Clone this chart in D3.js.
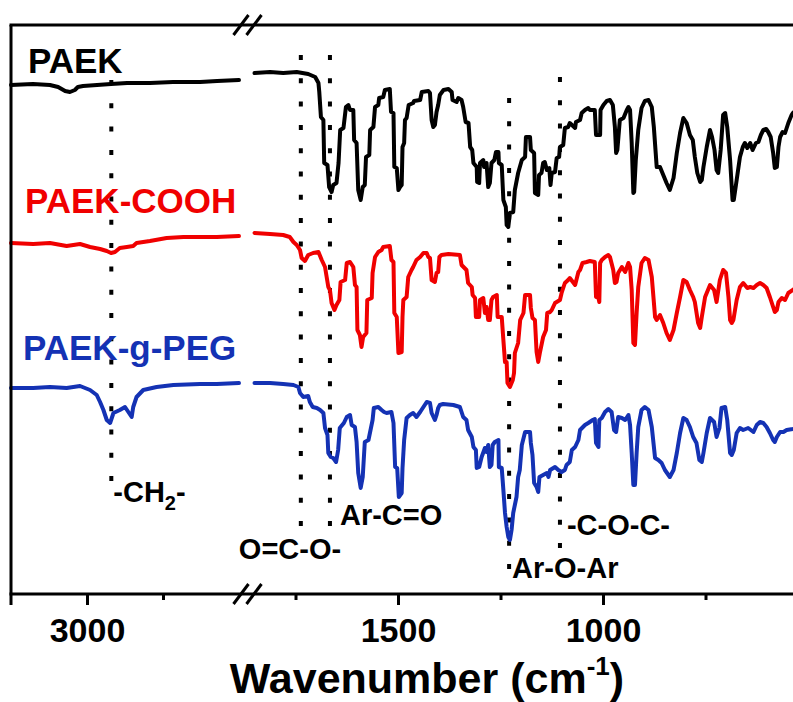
<!DOCTYPE html>
<html>
<head>
<meta charset="utf-8">
<script src="https://cdn.jsdelivr.net/npm/d3@7"></script>
<style>
  html, body { margin: 0; padding: 0; background: #fff; }
  svg { display: block; font-family: "Liberation Sans", Arial, Helvetica, sans-serif; font-weight: bold; }
</style>
</head>
<body>
<svg id="chart" width="793" height="702"></svg>
<script>
// ---- FTIR spectra: wavenumber (cm-1), transmittance (arbitrary, stacked) ----
const seriesNames = ["PAEK", "PAEK-COOH", "PAEK-g-PEG"];

// wavenumber spans on either side of the axis break
const highSpan = [3250, 2500];
const lowSpan = [1850, 500];

const majorTicksHigh = [3000];
const minorTicksHigh = [2750];
const majorTicksLow = [1500, 1000];
const minorTicksLow = [1750, 1250, 750];

// PAEK
const paekHigh = [[3250,50.9],[3178,51.0],[3122,50.9],[3095,50.7],[3072,50.3],[3056,50.2],[3040,50.4],[3030,50.7],[3013,50.8],[2967,50.9],[2921,51.0],[2868,51.1],[2793,51.1],[2717,51.2],[2628,51.2],[2572,51.3],[2500,51.4]];
const paekLow = [[1850,52.1],[1812,52.2],[1780,52.1],[1747,52.2],[1719,52.0],[1702,51.7],[1694,51.1],[1692,50.2],[1688,47.7],[1682,47.4],[1680,43.1],[1672,42.9],[1668,40.7],[1662,40.2],[1658,40.9],[1650,41.1],[1645,43.1],[1641,46.4],[1633,46.6],[1627,48.7],[1621,48.9],[1617,48.4],[1609,48.4],[1607,45.4],[1601,45.1],[1597,40.4],[1591,39.4],[1586,40.7],[1581,40.9],[1578,43.7],[1570,43.9],[1568,46.4],[1560,46.7],[1556,48.7],[1548,48.9],[1546,49.6],[1536,49.7],[1532,50.4],[1520,50.5],[1517,48.2],[1511,48.1],[1509,42.7],[1503,42.6],[1499,40.4],[1495,40.7],[1491,40.9],[1489,44.7],[1485,45.1],[1483,47.4],[1479,47.6],[1474,48.9],[1463,49.1],[1461,49.3],[1446,49.4],[1442,50.2],[1426,50.3],[1422,50.1],[1418,47.4],[1414,46.7],[1410,46.9],[1406,48.2],[1402,48.9],[1398,49.9],[1389,50.4],[1377,50.5],[1369,50.2],[1367,49.4],[1357,49.2],[1353,49.6],[1345,49.4],[1341,48.7],[1335,47.2],[1328,47.1],[1324,44.7],[1319,44.4],[1316,43.1],[1308,42.7],[1307,41.2],[1302,41.1],[1300,43.1],[1292,43.4],[1290,42.7],[1284,43.1],[1280,40.7],[1276,41.1],[1272,43.1],[1265,43.4],[1261,44.2],[1255,44.2],[1254,43.1],[1247,42.9],[1243,39.4],[1237,38.7],[1235,36.9],[1231,36.7],[1227,38.1],[1219,38.2],[1215,40.4],[1207,42.1],[1198,43.4],[1190,43.7],[1188,45.7],[1178,45.7],[1176,44.4],[1168,44.1],[1166,40.1],[1158,39.9],[1156,41.9],[1150,42.1],[1146,43.1],[1142,43.2],[1137,42.4],[1131,42.6],[1128,40.9],[1125,42.1],[1117,42.2],[1113,43.6],[1107,43.7],[1105,44.7],[1097,44.9],[1093,46.6],[1085,46.7],[1081,47.1],[1068,46.6],[1066,47.2],[1056,47.4],[1052,48.1],[1044,48.4],[1036,48.6],[1032,48.4],[1020,48.4],[1017,45.9],[1007,45.9],[1006,48.4],[999,48.9],[991,49.3],[983,49.4],[976,48.9],[971,46.7],[968,44.1],[965,44.4],[959,47.4],[950,47.6],[942,48.4],[938,48.7],[934,48.4],[930,45.1],[926,40.1],[924,40.2],[920,43.4],[914,46.4],[906,48.6],[898,49.3],[889,49.4],[881,48.7],[876,46.7],[869,42.7],[861,42.7],[853,41.9],[845,41.1],[837,40.4],[828,41.6],[820,44.1],[812,46.1],[804,47.6],[796,47.1],[788,45.9],[781,45.4],[776,43.7],[770,42.1],[763,41.2],[759,41.4],[755,42.7],[747,44.7],[739,46.4],[734,45.7],[728,44.4],[723,42.4],[719,42.1],[713,44.4],[707,47.9],[702,48.1],[697,46.7],[690,43.4],[686,40.7],[684,39.4],[681,39.4],[674,41.4],[666,43.7],[659,44.7],[654,45.1],[648,44.6],[641,45.1],[635,44.4],[627,45.1],[621,45.2],[615,45.9],[609,46.4],[602,46.5],[597,46.2],[591,45.7],[585,44.1],[581,42.6],[576,42.7],[572,44.7],[568,45.7],[562,46.2],[556,46.1],[548,47.1],[540,47.9],[537,48.1],[525,48.5]];

// PAEK-COOH
const paekCoohHigh = [[3250,35.1],[3177,35.0],[3122,35.1],[3067,34.8],[3023,35.0],[2990,34.7],[2957,34.5],[2935,34.3],[2921,34.1],[2908,34.2],[2892,34.6],[2869,34.7],[2848,34.8],[2837,35.1],[2793,35.3],[2738,35.6],[2683,35.7],[2628,35.7],[2573,35.7],[2500,35.8]];
const paekCoohLow = [[1850,36.1],[1812,36.0],[1780,35.9],[1764,35.7],[1755,35.2],[1747,34.9],[1739,34.4],[1735,33.6],[1727,33.3],[1719,33.9],[1707,34.1],[1694,34.2],[1689,33.7],[1686,33.4],[1678,32.7],[1670,30.7],[1666,30.4],[1662,29.1],[1655,28.4],[1650,28.9],[1643,29.4],[1640,31.2],[1629,31.4],[1625,33.1],[1617,33.2],[1609,32.7],[1605,30.9],[1601,30.7],[1599,26.4],[1593,25.9],[1589,24.7],[1585,25.7],[1577,26.1],[1575,29.4],[1564,29.6],[1562,32.1],[1556,33.7],[1548,34.2],[1540,34.4],[1536,34.7],[1520,34.8],[1516,33.4],[1511,33.2],[1509,28.1],[1503,27.7],[1499,24.1],[1491,24.2],[1489,27.7],[1487,29.4],[1479,29.7],[1475,31.7],[1467,32.4],[1463,32.7],[1455,33.4],[1446,33.7],[1438,34.1],[1430,34.1],[1426,33.7],[1422,33.6],[1418,31.4],[1410,31.2],[1406,32.1],[1402,32.2],[1399,33.7],[1394,33.9],[1377,34.0],[1349,33.9],[1345,32.9],[1333,32.4],[1329,31.1],[1320,30.7],[1318,29.9],[1312,29.6],[1310,27.7],[1302,27.7],[1300,29.4],[1292,29.6],[1288,28.1],[1284,28.7],[1280,27.4],[1276,27.4],[1272,29.4],[1268,29.7],[1259,29.9],[1257,27.7],[1247,27.7],[1243,25.4],[1239,23.2],[1235,23.2],[1233,21.1],[1227,20.7],[1220,21.4],[1217,22.1],[1215,24.1],[1207,25.1],[1202,27.4],[1194,28.1],[1190,29.9],[1178,29.9],[1176,28.6],[1172,27.6],[1166,27.4],[1162,24.2],[1158,23.2],[1154,24.1],[1146,25.7],[1139,26.4],[1136,28.1],[1129,28.2],[1125,28.4],[1117,29.1],[1105,29.4],[1101,30.1],[1093,31.1],[1085,31.4],[1081,31.6],[1068,30.9],[1060,32.2],[1056,32.4],[1050,33.1],[1040,33.2],[1032,33.3],[1020,33.2],[1017,29.7],[1011,29.6],[1009,29.2],[1007,33.1],[1003,33.4],[995,33.7],[987,33.9],[983,33.7],[975,32.4],[971,31.1],[967,31.2],[963,32.1],[954,32.7],[946,32.2],[938,33.1],[934,32.7],[930,30.4],[926,25.1],[922,24.9],[918,28.1],[914,30.7],[906,33.1],[898,33.6],[889,33.4],[881,31.7],[873,27.7],[869,27.4],[861,27.9],[853,27.1],[845,26.1],[837,25.4],[828,26.4],[820,28.1],[812,29.7],[804,31.4],[796,31.2],[788,30.4],[780,29.7],[776,29.2],[768,27.1],[763,26.6],[759,27.7],[751,29.7],[739,30.9],[729,30.4],[723,29.2],[715,31.4],[707,32.4],[700,32.1],[694,29.7],[690,27.4],[686,27.1],[682,27.4],[674,29.4],[666,30.7],[658,31.1],[654,30.9],[648,30.6],[641,30.7],[633,30.6],[625,30.9],[617,31.1],[609,30.9],[601,30.6],[593,29.7],[585,28.7],[581,28.2],[576,28.4],[572,29.2],[564,29.6],[556,29.4],[548,30.1],[537,30.4],[525,30.8]];

// PAEK-g-PEG
const paekPegHigh = [[3250,20.6],[3177,20.6],[3122,20.7],[3067,20.6],[3023,20.8],[2990,20.4],[2968,19.9],[2957,19.2],[2946,18.4],[2935,17.4],[2924,17.1],[2913,18.1],[2892,18.4],[2875,18.7],[2864,18.2],[2853,17.7],[2848,18.7],[2837,19.7],[2815,20.4],[2771,20.7],[2716,20.9],[2628,21.0],[2573,21.0],[2500,21.1]];
const paekPegLow = [[1850,21.1],[1812,21.1],[1780,21.0],[1755,20.9],[1743,20.7],[1739,20.1],[1731,19.7],[1719,19.8],[1715,19.2],[1708,18.7],[1698,18.6],[1690,18.4],[1682,18.1],[1678,16.6],[1672,15.9],[1670,14.1],[1664,13.7],[1658,13.6],[1651,13.2],[1646,14.4],[1642,16.6],[1632,17.1],[1625,17.7],[1617,17.9],[1613,16.9],[1605,16.7],[1601,15.2],[1597,12.1],[1591,10.6],[1586,11.7],[1581,15.2],[1572,15.4],[1562,17.4],[1559,18.6],[1548,18.7],[1540,18.4],[1534,18.2],[1528,18.1],[1516,18.2],[1511,17.1],[1507,12.7],[1502,12.6],[1498,9.7],[1491,10.1],[1489,12.6],[1485,15.4],[1479,17.6],[1471,17.9],[1463,18.1],[1455,17.7],[1446,18.2],[1438,18.7],[1430,19.2],[1422,19.1],[1418,18.1],[1410,17.4],[1406,17.9],[1402,18.6],[1398,18.9],[1390,19.0],[1365,18.9],[1349,18.7],[1341,17.7],[1333,17.4],[1329,16.4],[1320,15.7],[1316,14.7],[1310,14.4],[1308,12.6],[1302,12.7],[1296,13.7],[1288,14.6],[1284,14.2],[1280,14.9],[1276,12.7],[1272,12.9],[1269,14.9],[1264,15.2],[1255,15.4],[1254,12.7],[1247,12.6],[1243,10.4],[1239,8.1],[1235,6.7],[1231,5.7],[1227,5.4],[1223,6.4],[1219,8.1],[1211,9.7],[1207,11.7],[1203,12.4],[1198,14.9],[1190,16.2],[1178,16.2],[1176,15.1],[1172,13.9],[1168,11.1],[1162,10.7],[1158,10.2],[1155,11.7],[1146,11.9],[1137,12.1],[1133,11.7],[1129,12.4],[1121,12.6],[1117,12.7],[1109,12.4],[1101,12.2],[1093,12.4],[1089,12.9],[1081,13.2],[1076,14.4],[1068,14.7],[1060,15.4],[1056,16.4],[1044,16.9],[1036,17.1],[1025,17.4],[1020,17.5],[1017,15.1],[1011,14.7],[1009,17.4],[1003,17.6],[995,18.2],[987,18.5],[979,18.2],[973,16.4],[968,16.2],[963,17.7],[954,17.6],[946,17.4],[938,17.9],[934,16.9],[930,14.1],[926,10.9],[922,10.9],[918,14.1],[914,16.7],[906,18.4],[898,18.7],[889,18.4],[881,16.7],[873,13.6],[865,13.4],[857,13.1],[849,12.4],[837,11.7],[828,12.4],[820,14.1],[812,16.1],[804,17.6],[796,17.4],[788,16.7],[780,15.7],[772,15.1],[765,13.4],[759,13.2],[755,14.1],[747,16.1],[739,17.6],[729,17.2],[723,15.7],[716,16.6],[711,18.6],[702,18.7],[697,17.4],[690,14.1],[686,13.9],[681,14.4],[674,16.1],[666,16.6],[658,16.4],[646,16.6],[633,16.2],[625,16.9],[617,17.2],[609,17.1],[601,16.7],[593,16.1],[585,15.4],[581,15.2],[576,15.7],[568,16.2],[560,16.2],[552,16.4],[537,16.5],[525,16.6]];

// characteristic bands marked with dotted lines
const bandWavenumbers = [2920, 1737, 1666, 1229, 1105];
const bandLabels = ["-CH2-", "O=C-O-", "Ar-C=O", "Ar-O-Ar", "-C-O-C-"];

// ---- layout ----
const W = 793, H = 702;
const frameLeft = 11, frameTop = 25, axisY = 594;
const highPx = [11, 239];
const lowPx = [254.5, 808];
const colors = ["#000000", "#f00000", "#1432b4"];
const nameLayout = [{x: 28, y: 73}, {x: 25, y: 213}, {x: 23, y: 360}];
// dotted line extents (transmittance units) and label placement
const bandLayout = [
  {top: 51.4, bottom: 11.2, dx: 2,   base: 9.2},
  {top: 53.9, bottom: 6.4,  dx: -62, base: 3.5},
  {top: 53.9, bottom: 6.4,  dx: 10,  base: 6.9},
  {top: 49.6, bottom: 1.6,  dx: 3,   base: 1.6},
  {top: 51.7, bottom: 4.6,  dx: 7,   base: 5.9}
];

const svg = d3.select("#chart");
svg.append("rect").attr("width", W).attr("height", H).attr("fill", "#fff");

const xHigh = d3.scaleLinear().domain(highSpan).range(highPx);
const xLow = d3.scaleLinear().domain(lowSpan).range(lowPx);
const y = d3.scaleLinear().domain([0, 56.9]).range([axisY, frameTop]);

const xAt = w => (w >= 2400 ? xHigh(w) : xLow(w));

// dotted band markers
const bandG = svg.append("g");
bandWavenumbers.forEach((w, i) => {
  const L = bandLayout[i];
  const x = xAt(w);
  bandG.append("line")
    .attr("x1", x).attr("x2", x)
    .attr("y1", y(L.top)).attr("y2", y(L.bottom))
    .attr("stroke", "#000").attr("stroke-width", 4)
    .attr("stroke-dasharray", "5 18.3");
  const t = bandG.append("text")
    .attr("x", x + L.dx).attr("y", y(L.base))
    .attr("font-size", 29).attr("fill", "#000");
  const m = bandLabels[i].match(/^(.*[A-Z])(\d)(.*)$/);
  if (m) {
    t.append("tspan").text(m[1]);
    t.append("tspan").attr("font-size", 20).attr("dy", 8).text(m[2]);
    t.append("tspan").attr("dy", -8).text(m[3]);
  } else {
    t.text(bandLabels[i]);
  }
});

// spectra
const lineHigh = d3.line().x(d => xHigh(d[0])).y(d => y(d[1]));
const lineLow = d3.line().x(d => xLow(d[0])).y(d => y(d[1]));
const spectra = [[paekHigh, paekLow], [paekCoohHigh, paekCoohLow], [paekPegHigh, paekPegLow]];
const specG = svg.append("g").attr("fill", "none").attr("stroke-width", 4)
  .attr("stroke-linejoin", "round").attr("stroke-linecap", "round");
spectra.forEach((pair, i) => {
  specG.append("path").attr("d", lineHigh(pair[0])).attr("stroke", colors[i]);
  specG.append("path").attr("d", lineLow(pair[1])).attr("stroke", colors[i]);
});

// series names
seriesNames.forEach((n, i) => {
  svg.append("text").attr("x", nameLayout[i].x).attr("y", nameLayout[i].y)
    .attr("font-size", 35).attr("fill", colors[i]).text(n);
});

// frame: top, left, bottom
const frame = svg.append("g").attr("stroke", "#000").attr("stroke-width", 3).attr("fill", "none");
frame.append("line").attr("x1", frameLeft - 1.5).attr("x2", W).attr("y1", frameTop).attr("y2", frameTop);
frame.append("line").attr("x1", frameLeft).attr("x2", frameLeft).attr("y1", frameTop).attr("y2", axisY + 11);
frame.append("line").attr("x1", frameLeft - 1.5).attr("x2", W).attr("y1", axisY).attr("y2", axisY);

// ticks and tick labels
function ticks(scale, values, size, labelled) {
  const ax = d3.axisBottom(scale).tickValues(values).tickSize(size).tickSizeOuter(0)
    .tickFormat(labelled ? d3.format("d") : () => "");
  const g = svg.append("g").attr("transform", `translate(0,${axisY})`).call(ax);
  g.select(".domain").remove();
  g.selectAll(".tick line").attr("stroke", "#000").attr("stroke-width", 3);
  g.selectAll(".tick text")
    .attr("y", 48).attr("dy", 0)
    .attr("font-size", 34).attr("font-weight", "bold")
    .attr("font-family", "Liberation Sans, Arial, sans-serif")
    .attr("fill", "#000");
}
ticks(xHigh, majorTicksHigh, 11, true);
ticks(xHigh, minorTicksHigh, 6, false);
ticks(xLow, majorTicksLow, 11, true);
ticks(xLow, minorTicksLow, 6, false);

// axis break marks
const breakX = 247.5;
const brk = svg.append("g").attr("stroke", "#000").attr("stroke-width", 3);
[frameTop, axisY].forEach(yy => {
  brk.append("line").attr("x1", breakX - 14).attr("y1", yy + 10).attr("x2", breakX + 1).attr("y2", yy - 10);
  brk.append("line").attr("x1", breakX - 1).attr("y1", yy + 10).attr("x2", breakX + 14).attr("y2", yy - 10);
});

// axis title
const title = svg.append("text").attr("x", 427).attr("y", 693)
  .attr("text-anchor", "middle").attr("font-size", 43).attr("fill", "#000");
title.append("tspan").text("Wavenumber (cm");
title.append("tspan").attr("font-size", 26).attr("dy", -18).text("-1");
title.append("tspan").attr("dy", 18).text(")");
</script>
</body>
</html>
